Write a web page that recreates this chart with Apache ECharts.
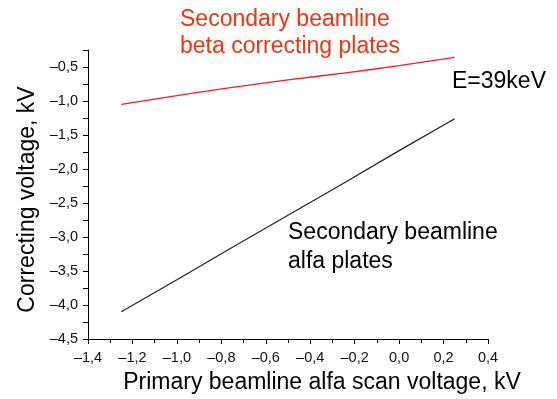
<!DOCTYPE html>
<html>
<head>
<meta charset="utf-8">
<script src="https://cdn.jsdelivr.net/npm/echarts@6/dist/echarts.min.js"></script>
<style>
  html, body { margin: 0; padding: 0; background: #fff; }
  #charts { width: 557px; height: 399px; }
</style>
</head>
<body>
<div id="charts"></div>
<script>
// scan voltage of the primary beamline, kV
var scanVoltage = [-1.25, -1.0, -0.75, -0.5, -0.25, 0.0, 0.25];
// secondary beamline beta correcting plates, kV
var betaPlates = [-1.05, -0.92, -0.80, -0.69, -0.59, -0.48, -0.36];
// secondary beamline alfa plates, kV
var alfaPlates = [-4.10, -3.63, -3.15, -2.68, -2.21, -1.73, -1.26];

var xTicks = { min: -1.4, max: 0.4, step: 0.2 };
var yTicks = { min: -4.5, max: -0.25, step: 0.25, labelStep: 0.5 };

var font = 'Liberation Sans, Arial, sans-serif';

function pairs(xs, ys) {
    return xs.map(function (x, i) { return [x, ys[i]]; });
}

// 1,5 instead of 1.5 and a real minus sign, like the original figure
function commaLabel(v) {
    return v.toFixed(1).replace('.', ',').replace('-', '\u2013');
}

var myChart = echarts.init(document.getElementById('charts'));

var option = {
    animation: false,
    grid: { left: 88, right: 69, top: 50, bottom: 56 },
    xAxis: {
        type: 'value',
        min: xTicks.min,
        max: xTicks.max,
        interval: xTicks.step,
        name: 'Primary beamline alfa scan voltage, kV',
        nameLocation: 'middle',
        nameGap: 32,
        nameTextStyle: { fontFamily: font, fontSize: 23, color: '#000', padding: [0, 0, 0, 68] },
        axisLine: { onZero: false, lineStyle: { color: '#000', width: 1 } },
        axisTick: { inside: false, length: 5, lineStyle: { color: '#000' } },
        minorTick: { show: true, splitNumber: 2, length: 4, lineStyle: { color: '#000' } },
        axisLabel: {
            margin: 11,
            fontFamily: font,
            fontSize: 14.5,
            color: '#111',
            formatter: commaLabel
        },
        splitLine: { show: false }
    },
    yAxis: {
        type: 'value',
        min: yTicks.min,
        max: yTicks.max,
        interval: yTicks.step,
        name: 'Correcting voltage, kV',
        nameLocation: 'middle',
        nameGap: 42,
        nameTextStyle: { fontFamily: font, fontSize: 23, color: '#000', padding: [0, 10, 0, 0] },
        axisLine: { show: true, onZero: false, lineStyle: { color: '#000', width: 1 } },
        axisTick: { show: true, length: 5, lineStyle: { color: '#000' } },
        axisLabel: {
            margin: 10,
            fontFamily: font,
            fontSize: 14.5,
            color: '#111',
            formatter: function (v) {
                var k = Math.round(v / yTicks.labelStep * 1000) / 1000;
                return Math.abs(k - Math.round(k)) < 1e-6 ? commaLabel(v) : '';
            }
        },
        splitLine: { show: false }
    },
    graphic: [
        {
            type: 'text', left: 180, top: 6,
            style: {
                text: 'Secondary beamline\nbeta correcting plates',
                font: '23px ' + font, fill: '#f2330f', lineHeight: 27
            }
        },
        {
            type: 'text', left: 452, top: 70,
            style: { text: 'E=39keV', font: '23px ' + font, fill: '#000' }
        },
        {
            type: 'text', left: 288, top: 218,
            style: {
                text: 'Secondary beamline\nalfa plates',
                font: '23px ' + font, fill: '#000', lineHeight: 29
            }
        }
    ],
    series: [
        {
            name: 'beta',
            type: 'line',
            data: pairs(scanVoltage, betaPlates),
            showSymbol: false,
            smooth: true,
            lineStyle: { color: '#ff1a1a', width: 1.3 }
        },
        {
            name: 'alfa',
            type: 'line',
            data: pairs(scanVoltage, alfaPlates),
            showSymbol: false,
            lineStyle: { color: '#222', width: 1.2 }
        }
    ]
};

myChart.setOption(option);
</script>
</body>
</html>
